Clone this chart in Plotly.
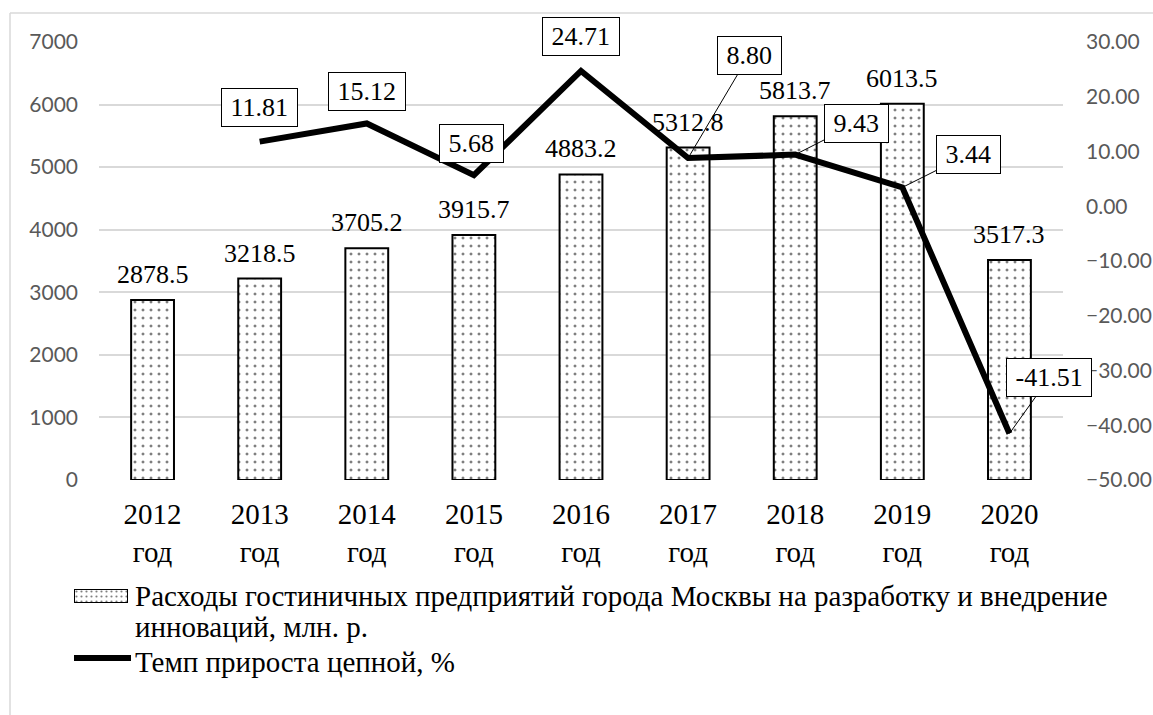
import plotly.graph_objects as go

# --- data -------------------------------------------------------------
years = ["2012", "2013", "2014", "2015", "2016", "2017", "2018", "2019", "2020"]
year_labels = ["2012<br>год", "2013<br>год", "2014<br>год", "2015<br>год", "2016<br>год",
               "2017<br>год", "2018<br>год", "2019<br>год", "2020<br>год"]
spending = [2878.5, 3218.5, 3705.2, 3915.7, 4883.2, 5312.8, 5813.7, 6013.5, 3517.3]
growth_years = ["2013", "2014", "2015", "2016", "2017", "2018", "2019", "2020"]
growth = [11.81, 15.12, 5.68, 24.71, 8.80, 9.43, 3.44, -41.51]

bar_name = "Расходы гостиничных предприятий города Москвы на разработку и внедрение"
bar_name_2 = "инноваций, млн. р."
line_name = "Темп прироста цепной, %"

# --- canvas geometry (pixels) -------------------------------------------
W, H = 1153, 715
PX0, PX1 = 99, 1063      # plot area left/right
PY0, PY1 = 42, 480       # plot area top/bottom


def px(x):
    return x / W


def py(y):
    return 1 - y / H


SERIF = "Liberation Serif"
SANS = "Lato"
GRID = "#d9d9d9"
TICK = "#595959"

fig = go.Figure()

fig.add_trace(go.Bar(
    x=years, y=spending, width=0.4,
    marker=dict(color="white", line=dict(color="black", width=2),
                pattern=dict(shape=".", fgcolor="black", bgcolor="white",
                             size=8, solidity=0.11)),
    showlegend=False, xaxis="x", yaxis="y",
))

fig.add_trace(go.Scatter(
    x=growth_years, y=growth, mode="lines",
    line=dict(color="black", width=6),
    showlegend=False, xaxis="x", yaxis="y2",
))

# legend swatch for the bar series (same pattern fill)
fig.add_trace(go.Bar(
    x=[1], y=[0], orientation="h", width=1,
    marker=dict(color="white", line=dict(color="black", width=2),
                pattern=dict(shape=".", fgcolor="black", bgcolor="white",
                             size=5, solidity=0.15)),
    showlegend=False, hoverinfo="skip", xaxis="x3", yaxis="y3",
))

annotations = []

# value labels above the bars
for i, v in enumerate(spending):
    annotations.append(dict(
        x=i, y=v, xref="x", yref="y", yanchor="bottom", yshift=9,
        showarrow=False, text=f"{v:.1f}",
        font=dict(family=SERIF, size=26, color="black"),
    ))

# boxed value labels on the growth line: (dx, dy) offsets of the box in pixels
label_offsets = {
    "2013": (0, -34, False),
    "2014": (0, -32, False),
    "2015": (-2, -32, False),
    "2016": (0, -34, False),
    "2017": (61, -103, True),
    "2018": (61, -31, True),
    "2019": (66, -33, True),
    "2020": (40, -56, True),
}
for yr, v in zip(growth_years, growth):
    dx, dy, leader = label_offsets[yr]
    common = dict(
        x=years.index(yr), y=v, xref="x", yref="y2",
        text="\u00a0" + f"{v:.2f}" + "\u00a0",
        font=dict(family=SERIF, size=26, color="black"),
        bgcolor="white", bordercolor="black", borderwidth=1, borderpad=2,
        height=33,
    )
    if leader:
        annotations.append(dict(common, showarrow=True, arrowhead=0,
                                arrowwidth=1, arrowcolor="black",
                                ax=dx, ay=dy, axref="pixel", ayref="pixel"))
    else:
        annotations.append(dict(common, showarrow=False, xshift=dx, yshift=-dy))

# legend texts
legend_font = dict(family=SERIF, size=29, color="black")
for txt, yc in [(bar_name, 596), (bar_name_2, 627), (line_name, 662)]:
    annotations.append(dict(x=px(133), y=py(yc), xref="paper", yref="paper",
                            xanchor="left", yanchor="middle", showarrow=False,
                            text=txt, font=legend_font))

shapes = [
    # outer frame (left and top edges visible)
    dict(type="line", xref="paper", yref="paper", x0=px(10), x1=px(10),
         y0=py(13), y1=0, line=dict(color=GRID, width=1.5)),
    dict(type="line", xref="paper", yref="paper", x0=px(10), x1=1,
         y0=py(13), y1=py(13), line=dict(color=GRID, width=1.5)),
    # legend line symbol
    dict(type="line", xref="paper", yref="paper", x0=px(74), x1=px(131),
         y0=py(658), y1=py(658), line=dict(color="black", width=6)),
]

fig.update_layout(
    width=W, height=H,
    margin=dict(l=0, r=0, t=0, b=0),
    paper_bgcolor="white", plot_bgcolor="white",
    xaxis=dict(domain=[px(PX0), px(PX1)], type="category",
               categoryorder="array", categoryarray=years,
               range=[-0.5, len(years) - 0.5],
               tickmode="array", tickvals=years, ticktext=year_labels,
               tickangle=0,
               tickfont=dict(family=SERIF, size=29, color="black"),
               showgrid=False, showline=False, zeroline=False,
               ticks="", ticklabelstandoff=14, automargin=False),
    yaxis=dict(domain=[py(PY1), py(PY0)], range=[0, 7000], dtick=1000,
               showgrid=True, gridcolor=GRID, gridwidth=1.5, zeroline=False,
               showline=False, ticks="",
               tickfont=dict(family=SANS, size=21, color=TICK),
               ticklabelstandoff=20, automargin=False),
    yaxis2=dict(domain=[py(PY1), py(PY0)], range=[-50, 30], dtick=10,
                tickformat=".2f", overlaying="y", side="right", anchor="x",
                showgrid=False, zeroline=False, showline=False, ticks="",
                tickfont=dict(family=SANS, size=21, color=TICK),
                ticklabelstandoff=22, automargin=False),
    xaxis3=dict(domain=[px(74), px(128)], range=[0, 1], visible=False,
                fixedrange=True),
    yaxis3=dict(domain=[py(603), py(589)], range=[-0.5, 0.5], visible=False,
                fixedrange=True, anchor="x3"),
    annotations=annotations,
    shapes=shapes,
)

fig.write_html("out.html")
